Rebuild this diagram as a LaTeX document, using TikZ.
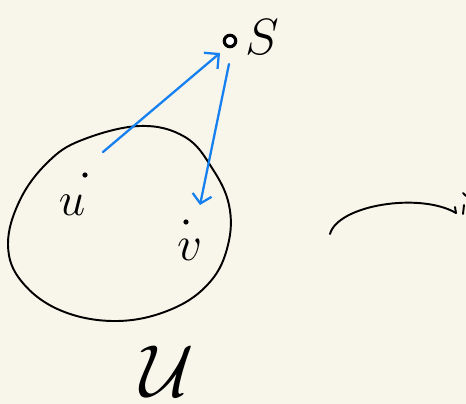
\RequirePackage{fix-cm}
\documentclass[tikz,border=0pt]{standalone}
\usepackage{amsmath,amssymb}
\usetikzlibrary{arrows.meta}

\definecolor{paper}{RGB}{248,246,234}
\definecolor{pen}{RGB}{22,128,240}

\tikzset{
    stroke/.style={line width=1.1pt, line cap=round, line join=round},
    dotmark/.style={circle, draw, fill=black, inner sep=0pt, minimum size=3pt},
    ring/.style={circle, draw, line width=1.8pt, fill=white, inner sep=0pt, minimum size=6.5pt},
    hand/.style={inner sep=0pt},
}

\begin{document}
\begin{tikzpicture}[x=0.02cm, y=-0.02cm]
    \fill[paper] (0,0) rectangle (466,404);
    \useasboundingbox (0,0) rectangle (466,404);

    % the set
    \draw[stroke] plot[smooth cycle, tension=0.65] coordinates {
        (82,140) (140,126) (185,137) (212,168) (229,205) (228,245)
        (210,282) (172,309) (118,321) (62,311) (22,282) (8,245)
        (20,200) (48,162)};

    % points
    \node[dotmark, minimum size=2.5pt] (u) at (85,175) {};
    \node[hand, font=\fontsize{27}{27}\selectfont] (ulab) at (72,205) {$u$};
    \node[dotmark, minimum size=2.5pt] (v) at (186,222) {};
    \node[hand, font=\fontsize{28}{28}\selectfont] (vlab) at (190,250) {$v$};
    \node[ring] (s) at (230,41) {};
    \node[hand, font=\fontsize{29}{29}\selectfont] (slab) at (262,37) {$S$};
    \node[hand, font=\fontsize{42}{42}\selectfont] (ubig) at (167,371) {$\mathcal{U}$};

    % the blue strokes
    \coordinate (ustart) at (103,152);
    \coordinate (sin) at (220,53);
    \coordinate (sout) at (229,64);
    \coordinate (vend) at (200,205);
    \draw[stroke, pen, line width=1.3pt, -{Straight Barb[length=6pt, width=12pt]}] (ustart) -- (sin);
    \draw[stroke, pen, line width=1.3pt, -{Straight Barb[length=5pt, width=11pt]}] (sout) -- (vend);

    % map to the right
    \coordinate (mstart) at (330,234);
    \coordinate (mend) at (456,213);
    \draw[stroke] (mstart) .. controls (338,205) and (420,192) .. (mend);
    \draw[stroke] (mend) -- (455,207);
    \draw[stroke] (463,193) -- (466,196);
    \draw[stroke] (464,205) -- (463,214);
\end{tikzpicture}
\end{document}
